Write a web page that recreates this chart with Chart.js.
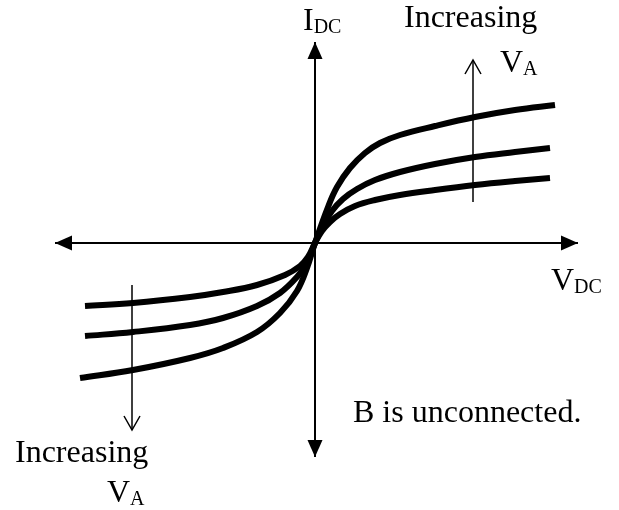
<!DOCTYPE html>
<html lang="en">
<head>
  <meta charset="UTF-8">
  <title>I-V curves</title>
  <script src="https://cdn.jsdelivr.net/npm/chart.js"></script>
  <style>
    body {
      margin: 0;
      padding: 0;
      background: white;
    }
    #chartBox {
      width: 619px;
      height: 510px;
    }
  </style>
</head>
<body>
  <div id="chartBox">
    <canvas id="ivChart" width="619" height="510"></canvas>
  </div>

  <script>
    // curve samples (x = V_DC, y = I_DC, arbitrary units, origin at the axes crossing)
    const curveHighX = [-235, -182, -125, -92, -58, -35, -18, -8, 0, 13, 22, 35, 50, 65, 85, 120, 160, 200, 240];
    const curveHighY = [-135, -127, -115, -105, -89, -70, -48, -25, 0, 36, 56, 75, 90, 100, 108, 117, 126, 133, 138];
    const curveMidX = [-230, -182, -125, -92, -58, -35, -18, -8, 0, 8, 17, 28, 42, 60, 85, 120, 160, 200, 235];
    const curveMidY = [-93, -89, -82, -75, -63, -50, -34, -20, 0, 17, 32, 44, 54, 63, 71, 79, 86, 91, 95];
    const curveLowX = [-230, -182, -125, -92, -58, -30, -15, -7, 0, 7, 15, 25, 40, 60, 85, 120, 160, 200, 235];
    const curveLowY = [-63, -60, -54, -49, -42, -32, -23, -14, 0, 12, 21, 29, 37, 43, 48, 53, 58, 62, 65];

    // axes and "increasing" arrows: [startX, startY, endX, endY]
    const axisRight = [0, 0, 263, 0];
    const axisLeft = [0, 0, -260, 0];
    const axisUp = [0, 0, 0, 201];
    const axisDown = [0, 0, 0, -214];
    const arrowRight = [158, 41, 158, 183];
    const arrowLeft = [-183, -42, -183, -187];

    function pts(xs, ys) {
      return xs.map((x, i) => ({ x: x, y: ys[i] }));
    }
    function seg(s) {
      return [{ x: s[0], y: s[1] }, { x: s[2], y: s[3] }];
    }

    const curveStyle = {
      showLine: true,
      borderColor: "black",
      borderWidth: 6,
      pointRadius: 0,
      tension: 0.4,
      fill: false
    };
    const axisStyle = { showLine: true, borderColor: "black", borderWidth: 2, pointRadius: 0, fill: false };
    const thinStyle = { showLine: true, borderColor: "black", borderWidth: 1.5, pointRadius: 0, fill: false };

    // draws arrow heads on the end of the segment datasets, plus the labels
    const decorPlugin = {
      id: "decor",
      afterDatasetsDraw(chart) {
        const ctx = chart.ctx;
        chart.data.datasets.forEach((ds, i) => {
          if (!ds.arrow) return;
          const p = chart.getDatasetMeta(i).data;
          const a = p[0], b = p[p.length - 1];
          const ang = Math.atan2(b.y - a.y, b.x - a.x);
          ctx.save();
          ctx.translate(b.x, b.y);
          ctx.rotate(ang);
          ctx.beginPath();
          if (ds.arrow === "solid") {
            ctx.moveTo(0, 0);
            ctx.lineTo(-17, -7.5);
            ctx.lineTo(-17, 7.5);
            ctx.closePath();
            ctx.fillStyle = "black";
            ctx.fill();
          } else {
            ctx.moveTo(-14, -8);
            ctx.lineTo(0, 0);
            ctx.lineTo(-14, 8);
            ctx.strokeStyle = "black";
            ctx.lineWidth = 1.5;
            ctx.stroke();
          }
          ctx.restore();
        });

        ctx.save();
        ctx.fillStyle = "black";
        ctx.textBaseline = "alphabetic";
        const big = "32px 'Liberation Serif', 'Times New Roman', serif";
        const small = "20px 'Liberation Serif', 'Times New Roman', serif";
        function sub(main, s, x, y) {
          ctx.font = big;
          ctx.fillText(main, x, y);
          const w = ctx.measureText(main).width;
          ctx.font = small;
          ctx.fillText(s, x + w, y + 3);
        }
        sub("I", "DC", 303, 30);
        ctx.font = big;
        ctx.fillText("Increasing", 404, 27);
        sub("V", "A", 500, 72);
        sub("V", "DC", 551, 290);
        ctx.font = big;
        ctx.fillText("B is unconnected.", 353, 422);
        ctx.fillText("Increasing", 15, 462);
        sub("V", "A", 107, 502);
        ctx.restore();
      }
    };

    const ctx = document.getElementById("ivChart").getContext("2d");
    const ivChart = new Chart(ctx, {
      type: "scatter",
      data: {
        datasets: [
          Object.assign({ data: seg(axisRight), arrow: "solid" }, axisStyle),
          Object.assign({ data: seg(axisLeft), arrow: "solid" }, axisStyle),
          Object.assign({ data: seg(axisUp), arrow: "solid" }, axisStyle),
          Object.assign({ data: seg(axisDown), arrow: "solid" }, axisStyle),
          Object.assign({ data: seg(arrowRight), arrow: "open" }, thinStyle),
          Object.assign({ data: seg(arrowLeft), arrow: "open" }, thinStyle),
          Object.assign({ data: pts(curveHighX, curveHighY) }, curveStyle),
          Object.assign({ data: pts(curveMidX, curveMidY) }, curveStyle),
          Object.assign({ data: pts(curveLowX, curveLowY) }, curveStyle)
        ]
      },
      options: {
        responsive: false,
        animation: false,
        layout: { padding: 0 },
        plugins: {
          legend: { display: false },
          tooltip: { enabled: false }
        },
        scales: {
          x: { type: "linear", min: -315, max: 304, display: false },
          y: { type: "linear", min: -267, max: 243, display: false }
        }
      },
      plugins: [decorPlugin]
    });
  </script>
</body>
</html>
